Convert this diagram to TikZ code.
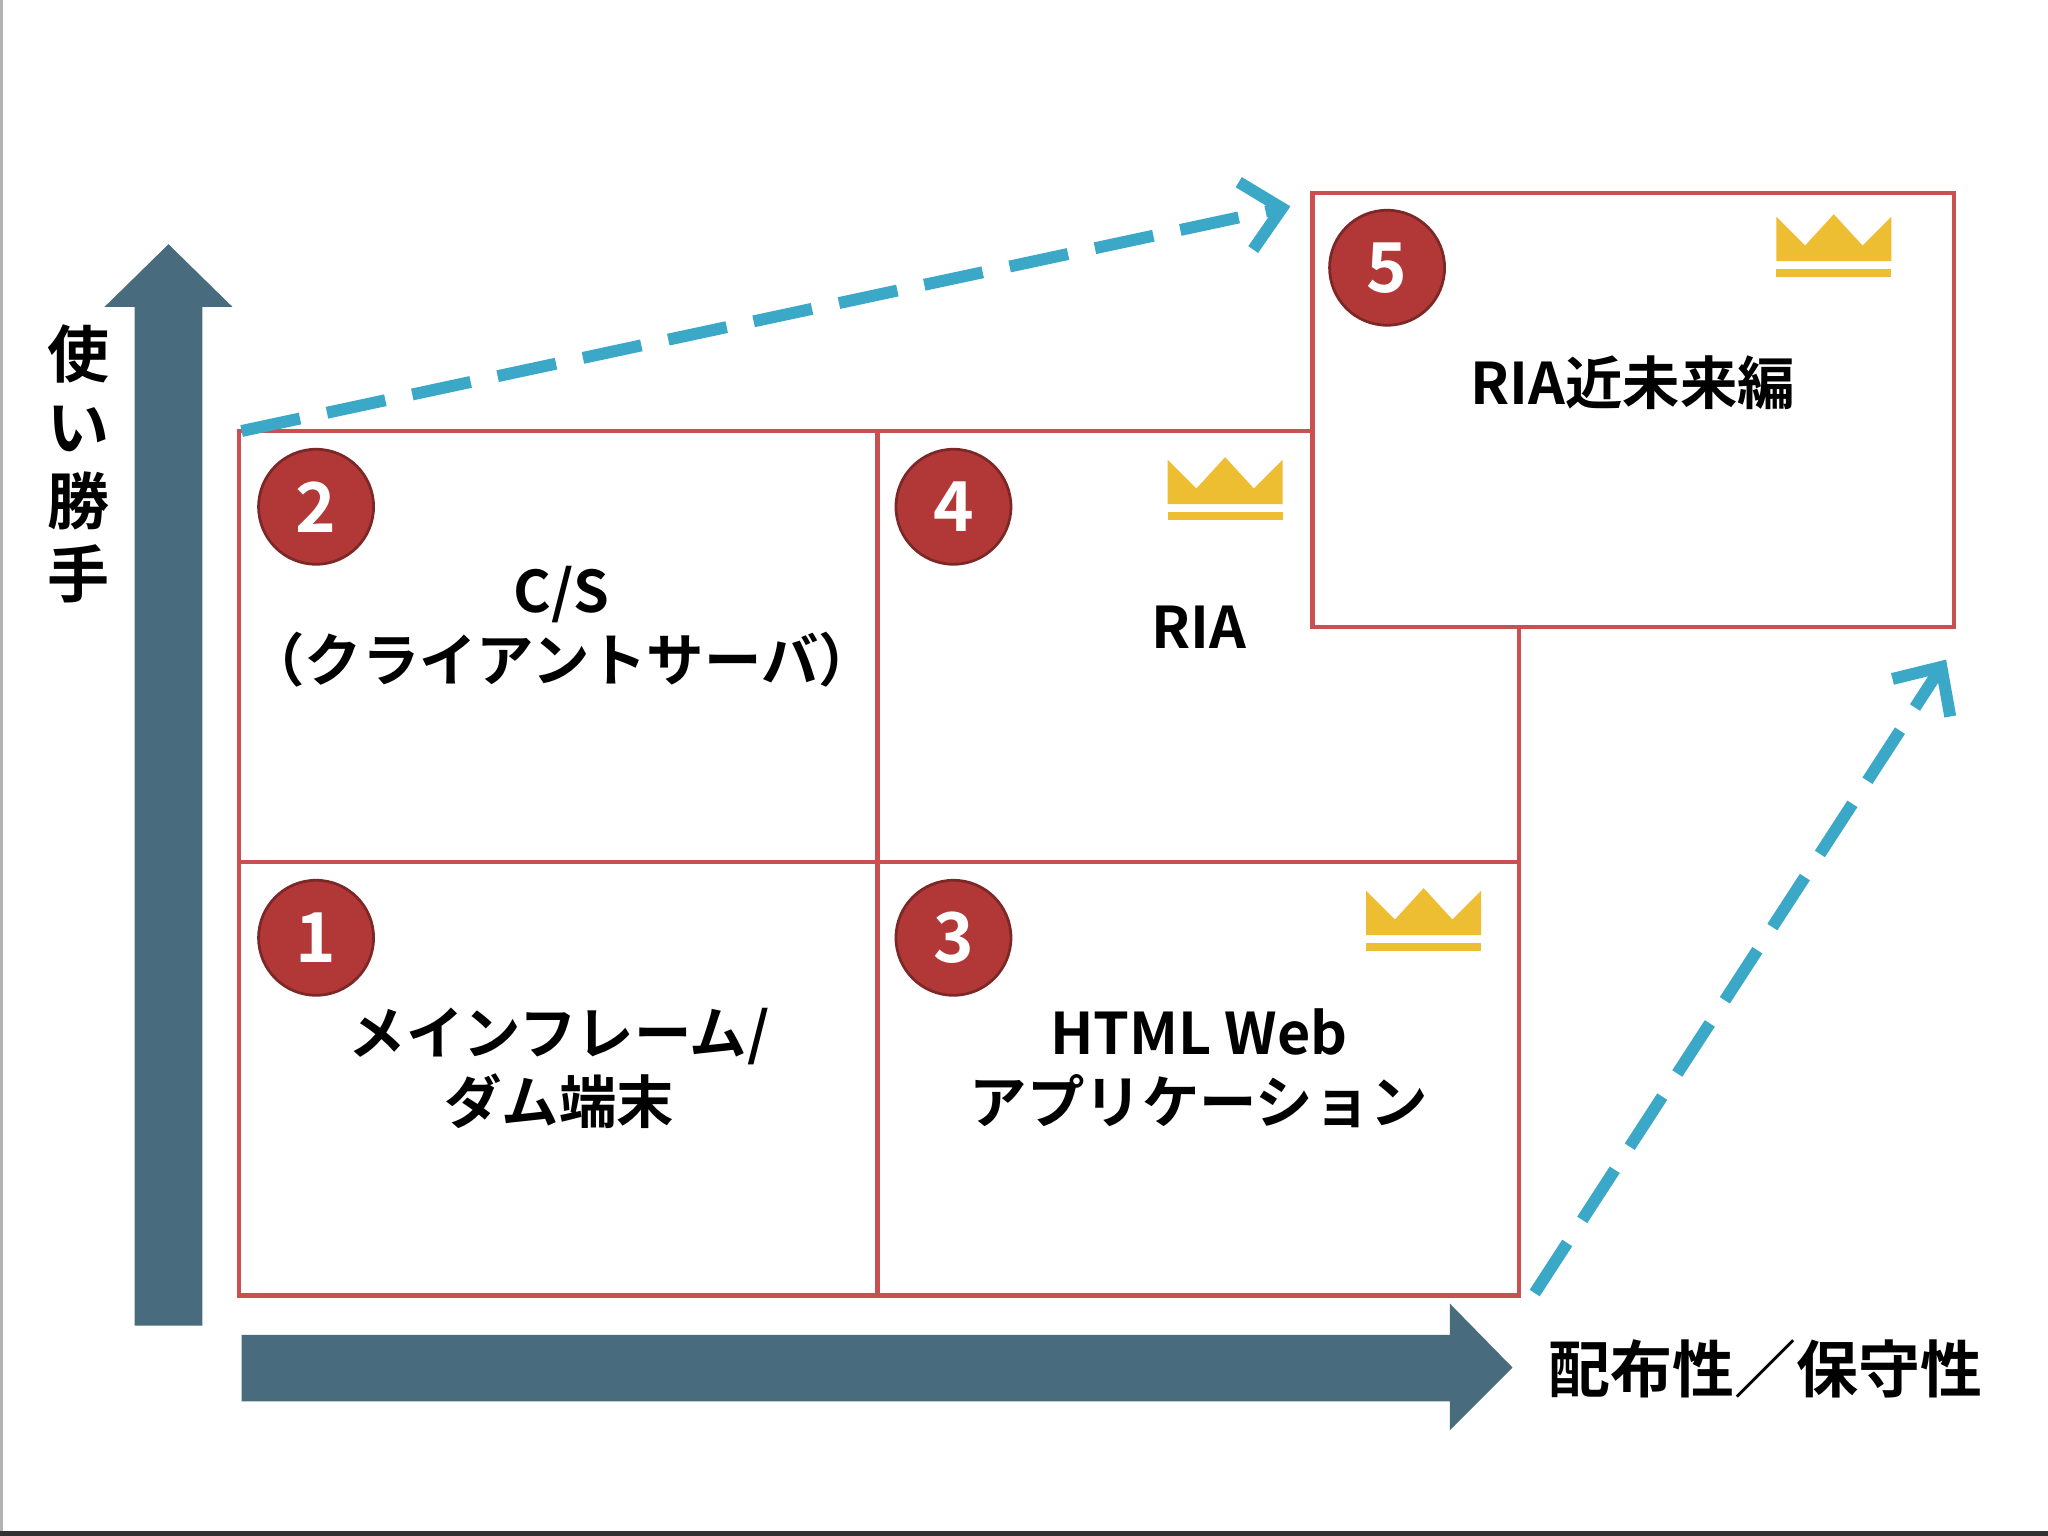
\documentclass[tikz,border=0pt]{standalone}
\usepackage{fontspec}
\setmainfont{Noto Sans CJK JP}[BoldFont={Noto Sans CJK JP Bold}]
\usetikzlibrary{arrows.meta}
\definecolor{gridred}{RGB}{200,80,80}
\definecolor{axisblue}{RGB}{72,108,126}
\definecolor{dashblue}{RGB}{60,168,200}
\definecolor{numred}{RGB}{178,56,56}
\definecolor{gold}{RGB}{238,190,50}
\tikzset{
  cell/.style={draw=gridred,line width=1pt,fill=white},
  num/.style={circle,fill=numred,draw=numred!70!black,line width=0.6pt,minimum size=0.88cm,inner sep=0pt,text=white,font=\bfseries\fontsize{15}{15}\selectfont},
  lbl/.style={font=\bfseries\fontsize{12.5}{15}\selectfont,align=center},
  axlbl/.style={font=\bfseries\fontsize{13.5}{16}\selectfont},
  dasharrow/.style={draw=dashblue,line width=2.6pt,dash pattern=on 13pt off 6pt,-{Straight Barb[length=8pt,width=15pt,line width=2.6pt]}},
  axis/.style={fill=axisblue},
  crown/.pic={
    \fill[gold] (-44,8) -- (-44,-26) -- (-22,-4) -- (0,-28) -- (22,-4) -- (44,-26) -- (44,8) -- cycle;
    \fill[gold] (-44,14) rectangle (44,20);
  }
}
\begin{document}
\begin{tikzpicture}[x=0.01cm,y=-0.01cm]
\useasboundingbox (0,0) rectangle (1568,1176);
\fill[white] (0,0) rectangle (1568,1176);
\draw[gray!60,line width=0.6pt] (1,0) -- (1,1172);
\fill[black!80] (0,1172) rectangle (1568,1176);
% axes
\fill[axis] (103,1015) -- (103,235) -- (80,235) -- (129,187) -- (178,235) -- (155,235) -- (155,1015) -- cycle;
\fill[axis] (185,1022) -- (1110,1022) -- (1110,998) -- (1158,1047) -- (1110,1095) -- (1110,1073) -- (185,1073) -- cycle;
% grid
\draw[cell] (183,330) rectangle (1163,992);
\draw[draw=gridred,line width=1pt] (672,330) -- (672,992) (183,660) -- (1163,660);
\node[cell,minimum width=4.91cm,minimum height=3.32cm,inner sep=0pt,anchor=north west] (b5) at (1003,146) {};
% dashed arrows
\coordinate (s1) at (185,330); \coordinate (e1) at (988,158);
\coordinate (s2) at (1175,990); \coordinate (e2) at (1490,505);
\draw[dasharrow] (s1) -- (e1);
\draw[dasharrow] (s2) -- (e2);
% numbers
\node[num] (n2) at (242,388) {2};
\node[num] (n4) at (730,388) {4};
\node[num] (n1) at (242,718) {1};
\node[num] (n3) at (730,718) {3};
\node[num] (n5) at (1062,205) {5};
% crowns
\pic at (938,378) {crown};
\pic at (1090,708) {crown};
\pic at (1404,192) {crown};
% labels
\node[lbl] (t2) at (430,480) {C/S\\（クライアントサーバ）};
\node[lbl] (t4) at (918,480) {RIA};
\node[lbl] (t1) at (428,818) {メインフレーム/\\ダム端末};
\node[lbl] (t3) at (918,818) {HTML Web\\アプリケーション};
\node[lbl] (t5) at (1250,293) {RIA近未来編};
\node[axlbl,align=center,inner sep=0pt] (ay) at (60,355) {使\\い\\勝\\手};
\node[axlbl] (ax) at (1352,1048) {配布性／保守性};
\end{tikzpicture}
\end{document}
